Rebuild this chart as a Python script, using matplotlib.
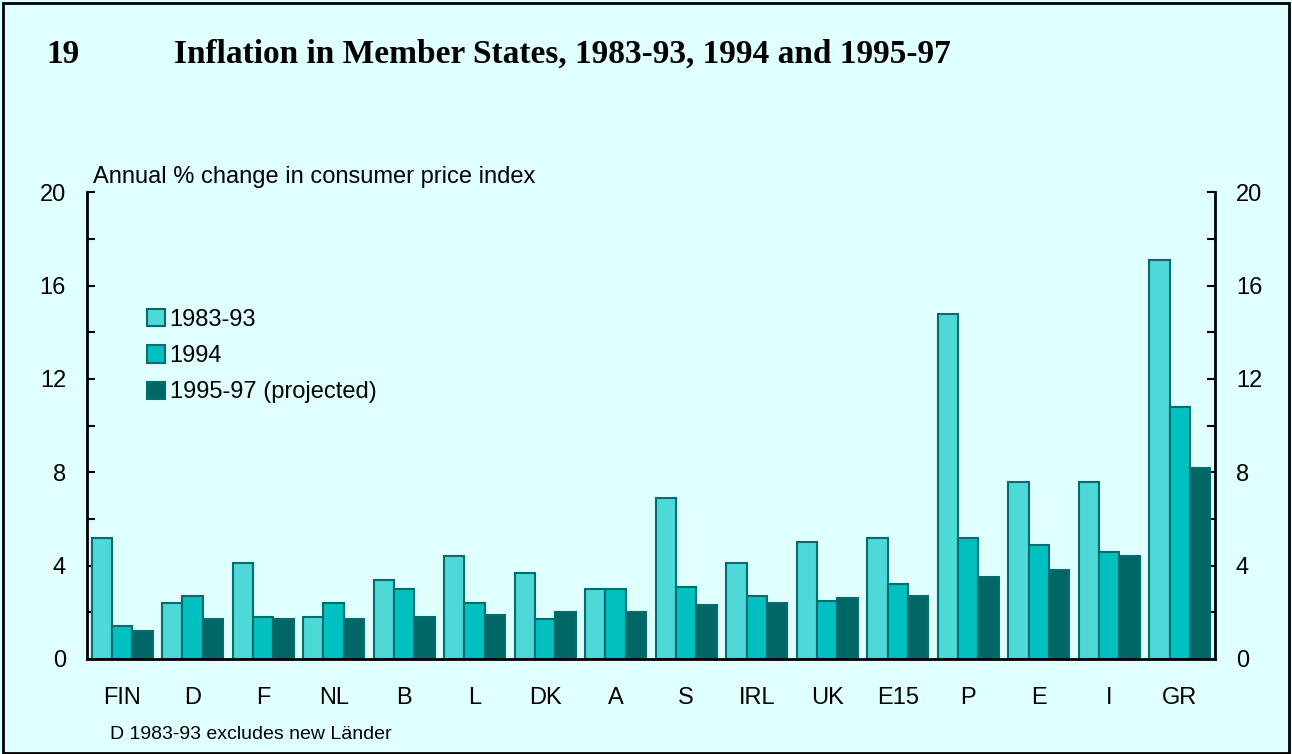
import numpy as np
import matplotlib.pyplot as plt
from matplotlib.patches import Rectangle

# Data
countries = ['FIN', 'D', 'F', 'NL', 'B', 'L', 'DK', 'A', 'S', 'IRL', 'UK', 'E15', 'P', 'E', 'I', 'GR']
infl_8393 = [5.2, 2.4, 4.1, 1.8, 3.4, 4.4, 3.7, 3.0, 6.9, 4.1, 5.0, 5.2, 14.8, 7.6, 7.6, 17.1]
infl_94 = [1.4, 2.7, 1.8, 2.4, 3.0, 2.4, 1.7, 3.0, 3.1, 2.7, 2.5, 3.2, 5.2, 4.9, 4.6, 10.8]
infl_9597 = [1.2, 1.7, 1.7, 1.7, 1.8, 1.9, 2.0, 2.0, 2.3, 2.4, 2.6, 2.7, 3.5, 3.8, 4.4, 8.2]
series_labels = ['1983-93', '1994', '1995-97 (projected)']

bg = '#e0ffff'
colors = ['#4ed8d8', '#00c0c0', '#006666']
edge = '#006e6e'

plt.rcParams['font.family'] = ['Liberation Sans', 'DejaVu Sans']

fig = plt.figure(figsize=(12.92, 7.54), dpi=100, facecolor=bg)
ax = fig.add_axes([0.0673, 0.126, 0.8731, 0.619])
ax.set_facecolor(bg)

x = np.arange(len(countries))
w = 0.29
for i, vals in enumerate([infl_8393, infl_94, infl_9597]):
    ax.bar(x + (i - 1) * w, vals, width=w, color=colors[i], edgecolor=edge,
           linewidth=1.5, label=series_labels[i], zorder=2)

ax.set_xlim(-0.5, len(countries) - 0.5)
ax.set_ylim(0, 20)
ax.set_xticks(x)
ax.set_xticklabels(countries, fontsize=17)
ax.tick_params(axis='x', length=0, pad=20)
ax.set_yticks(np.arange(0, 21, 4))
ax.set_yticks(np.arange(2, 20, 4), minor=True)
ax.tick_params(axis='y', which='both', direction='in', length=6, width=1.5,
               labelsize=17, left=True, right=True, labelleft=True, labelright=True)
ax.tick_params(axis='y', which='major', pad=15)

for s in ['left', 'right', 'bottom']:
    ax.spines[s].set_linewidth(2)
ax.spines['top'].set_visible(False)

ax.legend(loc='upper left', bbox_to_anchor=(0.045, 0.77), frameon=False, fontsize=17,
          handlelength=0.75, handleheight=0.75, handletextpad=0.2, labelspacing=0.6,
          borderaxespad=0)

fig.text(0.072, 0.751, 'Annual % change in consumer price index', fontsize=17, va='bottom')
fig.text(0.085, 0.02, 'D 1983-93 excludes new Länder', fontsize=14)

fig.text(0.036, 0.928, '19', fontsize=24, fontweight='bold', family='Liberation Serif', va='center')
fig.text(0.135, 0.928, 'Inflation in Member States, 1983-93, 1994 and 1995-97', fontsize=24,
         fontweight='bold', family='Liberation Serif', va='center')

fig.patches.append(Rectangle((0.002, 0.001), 0.996, 0.995, transform=fig.transFigure,
                             fill=False, edgecolor='black', linewidth=2))

fig.savefig('out.png', dpi=100, facecolor=bg)
